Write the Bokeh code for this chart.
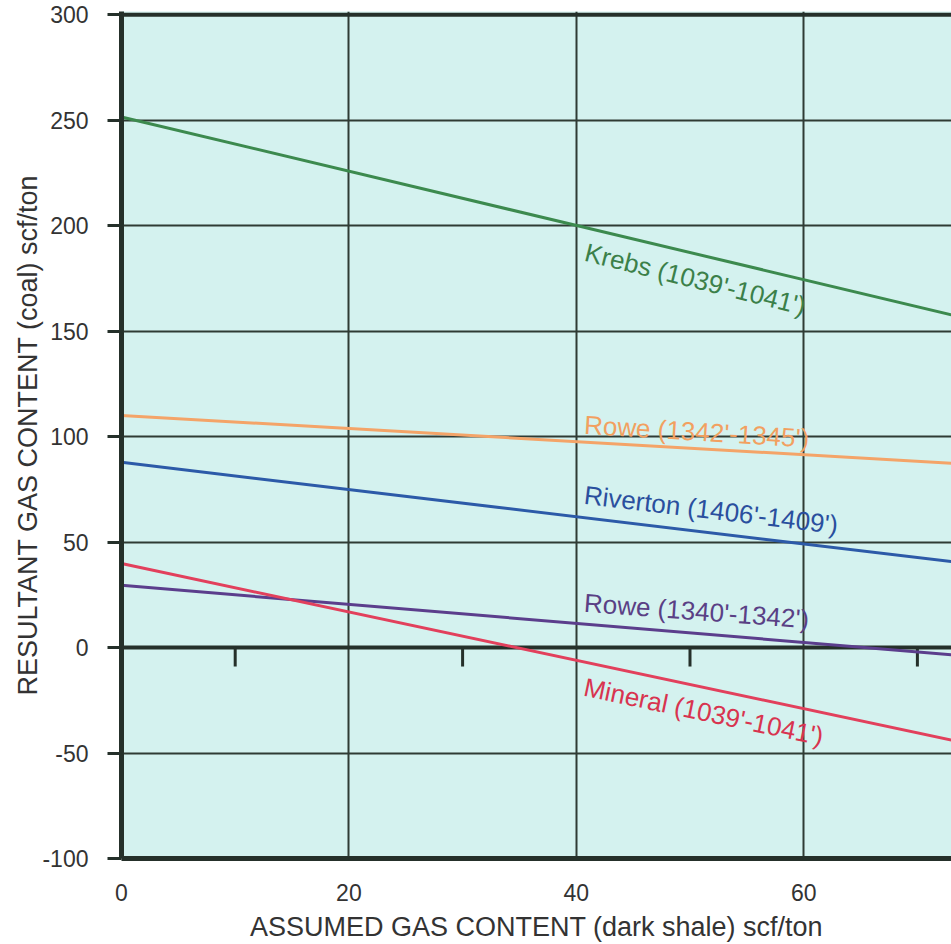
from bokeh.plotting import figure
from bokeh.models import Range1d, ColumnDataSource, FixedTicker
from bokeh.core.properties import value
from bokeh.embed import file_html
from bokeh.resources import INLINE

# Resultant coal gas content versus assumed dark-shale gas content (straight lines)
x_ends = [0, 80]
krebs = [251.5, 148.7]
rowe_1342 = [110.0, 85.2]
riverton = [87.8, 36.2]
rowe_1340 = [29.5, -6.6]
mineral = [39.8, -51.9]

series_names = ["Krebs (1039'-1041')", "Rowe (1342'-1345')", "Riverton (1406'-1409')",
                "Rowe (1340'-1342')", "Mineral (1039'-1041')"]
series_values = [krebs, rowe_1342, riverton, rowe_1340, mineral]
line_colors = ["#3c8a4e", "#f4a468", "#2c5aa8", "#5b3e8c", "#e2405c"]
text_colors = ["#3b8049", "#f2a060", "#2a4f9e", "#5a4085", "#d8344f"]

# label anchors (data units, left end of the baseline) and rotation
label_x = [40.8, 40.7, 40.7, 40.7, 40.7]
label_y = [187.6, 105.6, 72.4, 21.2, -18.6]
label_angle = [-14.0, -3.5, -6.8, -4.2, -11.8]

x_ticks = [0, 20, 40, 60]
y_ticks = [-100, -50, 0, 50, 100, 150, 200, 250, 300]
zero_line_ticks = [10, 30, 50, 70]

FONT = "Liberation Sans"
DARK = "#25302a"
GRID = "#2f3b34"

p = figure(width=951, height=944, output_backend="svg", toolbar_location=None,
           x_range=Range1d(0, 73.0), y_range=Range1d(-100, 301.5),
           min_border_left=121, min_border_right=0, min_border_top=11,
           min_border_bottom=86)

p.background_fill_color = "#d4f2ef"
p.border_fill_color = "white"
p.outline_line_color = None

# grid
p.xgrid.ticker = FixedTicker(ticks=[t for t in x_ticks if t != 0])
p.ygrid.ticker = FixedTicker(ticks=[t for t in y_ticks if t not in (-100, 0, 300)])
for g in (p.xgrid, p.ygrid):
    g.grid_line_color = GRID
    g.grid_line_width = 2
    g.grid_line_alpha = 1.0

# axes
p.xaxis.ticker = FixedTicker(ticks=x_ticks)
p.yaxis.ticker = FixedTicker(ticks=y_ticks)
p.yaxis.major_label_overrides = {t: str(t) for t in y_ticks}
p.xaxis.axis_label = "ASSUMED GAS CONTENT (dark shale) scf/ton"
p.yaxis.axis_label = "RESULTANT GAS CONTENT (coal) scf/ton"
for ax in (p.xaxis, p.yaxis):
    ax.axis_line_color = DARK
    ax.axis_line_width = 5
    ax.minor_tick_line_color = None
    ax.major_label_text_font = FONT
    ax.major_label_text_font_size = "23px"
    ax.major_label_text_color = "#333333"
    ax.axis_label_text_font = FONT
    ax.axis_label_text_font_size = "27px"
    ax.axis_label_text_font_style = "normal"
    ax.axis_label_text_color = "#333333"

p.xaxis.major_tick_line_color = None
p.xaxis.major_tick_out = 0
p.xaxis.major_tick_in = 0
p.xaxis.major_label_standoff = 25
p.xaxis.axis_label_standoff = 8

p.yaxis.major_tick_line_color = DARK
p.yaxis.major_tick_line_width = 3
p.yaxis.major_tick_out = 14
p.yaxis.major_tick_in = 0
p.yaxis.major_label_standoff = 19
p.yaxis.axis_label_standoff = -4

# top border and zero line
p.segment(x0=[0], y0=[300], x1=[73.0], y1=[300], line_color=DARK, line_width=4)
p.segment(x0=[0], y0=[0], x1=[73.0], y1=[0], line_color=DARK, line_width=4)
p.segment(x0=zero_line_ticks, y0=[0] * len(zero_line_ticks),
          x1=zero_line_ticks, y1=[-9] * len(zero_line_ticks),
          line_color=DARK, line_width=3)

# series lines
for vals, col in zip(series_values, line_colors):
    p.line(x_ends, vals, line_color=col, line_width=3)

src = ColumnDataSource(dict(x=label_x, y=label_y, text=series_names,
                            angle=label_angle, color=text_colors))
p.text(x="x", y="y", text="text", angle="angle", angle_units="deg",
       text_color="color", text_font=value(FONT), text_font_size="26px",
       text_align="left", text_baseline="alphabetic", source=src)

open("out.html", "w").write(file_html(p, INLINE))
